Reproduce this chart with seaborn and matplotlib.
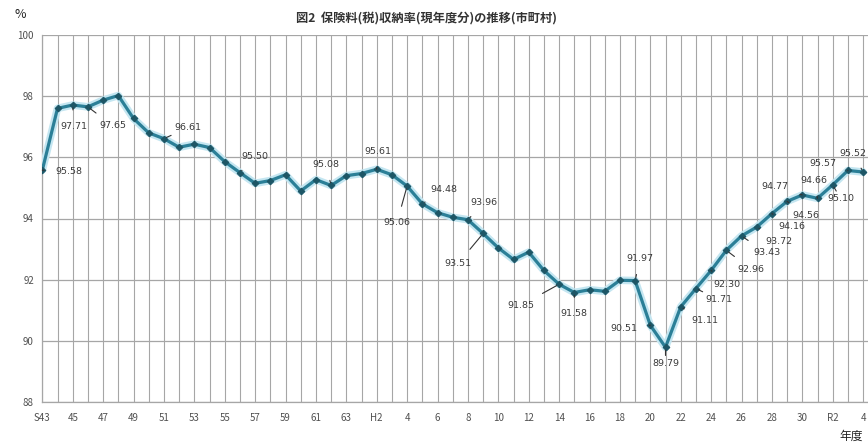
import matplotlib
matplotlib.use("Agg")
import matplotlib.pyplot as plt
import pandas as pd
import seaborn as sns

# Fiscal years S43 (1968) to R4 (2022)
years = list(range(1968, 2023))
rates = [
    95.58, 97.60, 97.71, 97.65, 97.87, 98.02, 97.27, 96.80, 96.61, 96.33,
    96.43, 96.32, 95.86, 95.50, 95.15, 95.24, 95.43, 94.90, 95.27, 95.08,
    95.40, 95.47, 95.61, 95.43, 95.06, 94.48, 94.19, 94.04, 93.96, 93.51,
    93.04, 92.66, 92.90, 92.30, 91.85, 91.58, 91.67, 91.62, 91.98, 91.97,
    90.51, 89.79, 91.11, 91.71, 92.30, 92.96, 93.43, 93.72, 94.16, 94.56,
    94.77, 94.66, 95.10, 95.57, 95.52,
]

tick_years = list(range(1968, 2023, 2))
tick_labels = ["S43", "45", "47", "49", "51", "53", "55", "57", "59", "61",
               "63", "H2", "4", "6", "8", "10", "12", "14", "16", "18",
               "20", "22", "24", "26", "28", "30", "R2", "4"]

y_ticks = [88, 90, 92, 94, 96, 98, 100]

# Which points carry a value label
labeled_years = [1968, 1970, 1971, 1976, 1981, 1987, 1990, 1992, 1993, 1996,
                 1997, 2002, 2003, 2007, 2008, 2009, 2010, 2011, 2012, 2013,
                 2014, 2015, 2016, 2017, 2018, 2019, 2020, 2021, 2022]

# Label placement (pixel offset of the text centre from its point)
label_offsets = {
    1968: (27, -1), 1970: (1, -21), 1971: (25, -19), 1976: (24, 11),
    1981: (15, 16), 1987: (-5, 21), 1990: (1, 18), 1992: (-10, -36),
    1993: (22, 14), 1996: (16, 17), 1997: (-25, -30), 2002: (-38, -21),
    2003: (0, -21), 2007: (5, 22), 2008: (-26, -3), 2009: (0, -16),
    2010: (24, -14), 2011: (23, -11), 2012: (16, -14), 2013: (25, -19),
    2014: (25, -17), 2015: (22, -14), 2016: (20, -13), 2017: (19, -14),
    2018: (-27, 8), 2019: (-4, 18), 2020: (8, -14), 2021: (-25, 7),
    2022: (-10, 19),
}

df = pd.DataFrame({"year": years, "rate": rates})

sns.set_theme(style="white")
plt.rcParams["font.family"] = ["Noto Sans CJK JP", "DejaVu Sans"]

W, H = 868, 443
fig = plt.figure(figsize=(W / 100, H / 100), dpi=100)
ax = fig.add_axes([42.3 / W, 1 - 402 / H, (W - 42.3) / W, (402 - 35) / H])

grid_col = "#a6a6a6"
ax.set_xlim(1968, 1968 + (W - 42.3) / 15.2)
ax.set_ylim(88, 100)
for yr in years:
    ax.axvline(yr, color=grid_col, lw=0.8, zorder=0)
for yv in y_ticks:
    ax.axhline(yv, color=grid_col, lw=0.9, zorder=0)

# soft halo under the line, then the line with its markers
sns.lineplot(data=df, x="year", y="rate", ax=ax, color="#c4e6f1",
             linewidth=5.5, zorder=4)
sns.lineplot(data=df, x="year", y="rate", ax=ax, color="#2b7f97",
             linewidth=2.3, marker="D", markersize=3.4,
             markerfacecolor="#1d5666", markeredgecolor="#1d5666",
             zorder=5)

for yr in labeled_years:
    v = rates[years.index(yr)]
    dx, dy = label_offsets[yr]
    ax.annotate(f"{v:.2f}", xy=(yr, v), xytext=(dx, dy),
                textcoords="offset pixels", ha="center", va="center",
                fontsize=6.8, color="#3a3a3a", family="DejaVu Sans",
                annotation_clip=False, zorder=6,
                arrowprops=dict(arrowstyle="-", color="#333333", lw=0.8,
                                shrinkA=6, shrinkB=2))

ax.set_xticks(tick_years)
ax.set_xticklabels(tick_labels)
ax.set_yticks(y_ticks)
ax.set_yticklabels([str(v) for v in y_ticks])
ax.tick_params(axis="both", length=0, labelsize=7, labelcolor="#505050")
ax.tick_params(axis="x", pad=8)
ax.tick_params(axis="y", pad=6)
ax.set_xlabel("")
ax.set_ylabel("")
for side in ["top", "right"]:
    ax.spines[side].set_visible(False)
for side in ["left", "bottom"]:
    ax.spines[side].set_color(grid_col)
    ax.spines[side].set_linewidth(0.9)

fig.text(426 / W, 1 - 18 / H, "図2  保険料(税)収納率(現年度分)の推移(市町村)",
         ha="center", va="center", fontsize=8.8, fontweight="bold",
         color="#333333")
fig.text(20 / W, 1 - 15 / H, "%", ha="center", va="center", fontsize=9,
         color="#222222")
fig.text(851 / W, 1 - 436 / H, "年度", ha="center", va="center", fontsize=8.5,
         color="#222222")

fig.savefig("out.png", dpi=100)
